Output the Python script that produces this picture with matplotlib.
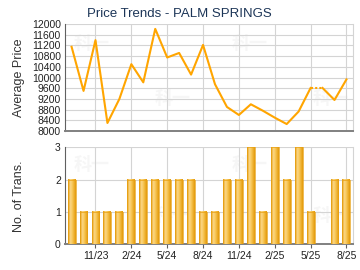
import matplotlib
matplotlib.use('Agg')

import matplotlib.pyplot as plt
import numpy as np
from matplotlib.colors import LinearSegmentedColormap

# months 9/23 .. 8/25
months = ['9/23', '10/23', '11/23', '12/23', '1/24', '2/24', '3/24', '4/24', '5/24', '6/24',
          '7/24', '8/24', '9/24', '10/24', '11/24', '12/24', '1/25', '2/25', '3/25', '4/25',
          '5/25', '6/25', '7/25', '8/25']
avg_price = [11150, 9500, 11400, 8300, 9200, 10500, 9820, 11820, 10750, 10920,
             10110, 11220, 9750, 8900, 8600, 9000, 8760, 8500, 8260, 8730,
             9610, 9610, 9160, 9930]
num_trans = [2, 1, 1, 1, 1, 2, 2, 2, 2, 2, 2, 1, 1, 2, 2, 3, 1, 3, 2, 3, 1, 0, 2, 2]
gap_month = '6/25'   # no transactions, price carried forward (dotted)

tick_labels = ['11/23', '2/24', '5/24', '8/24', '11/24', '2/25', '5/25', '8/25']

plt.rcParams['font.family'] = ['Liberation Sans', 'DejaVu Sans']

x = np.arange(len(months))
tick_pos = [months.index(t) for t in tick_labels]
gi = months.index(gap_month)

fig = plt.figure(figsize=(3.6, 2.7), dpi=100)
ax1 = fig.add_axes([0.1806, 0.5148, 0.80, 0.396])
ax2 = fig.add_axes([0.1806, 0.0952, 0.80, 0.359])

grid_c = '#d4d4d4'
axis_c = '#606060'
line_c = '#FFA500'

# watermark
for ax in (ax1, ax2):
    for (wx, wy) in [(0.03, 0.82), (0.31, 0.3), (0.58, 0.82), (0.86, 0.3)]:
        ax.text(wx, wy, '科一', transform=ax.transAxes, fontsize=13, fontweight='bold',
                color='#f6f6f6', family=['Noto Sans CJK SC', 'DejaVu Sans'],
                ha='left', va='center', zorder=0.5)

# --- price line ---
ax1.plot(x[:gi], avg_price[:gi], color=line_c, lw=1.5, zorder=3)
ax1.plot(x[gi - 1:gi + 1], avg_price[gi - 1:gi + 1], color=line_c, lw=1.5, ls=(0, (1, 1)), zorder=3)
ax1.plot(x[gi:], avg_price[gi:], color=line_c, lw=1.5, zorder=3)
ax1.set_ylim(8000, 12000)
ax1.set_yticks(np.arange(8000, 12001, 400))
ax1.set_ylabel('Average Price', fontsize=9, color='#333333')
fig.text(0.497, 0.948, 'Price Trends - PALM SPRINGS', fontsize=9.5, color='#1c3557',
         ha='center', va='center')

# --- transactions bars with gradient ---
cmap = LinearSegmentedColormap.from_list('bar', [(0, '#e29a0c'), (0.3, '#fcd889'),
                                                 (0.55, '#f8c758'), (1, '#e39a0a')])
grad = np.linspace(0, 1, 32).reshape(1, -1)
w = 0.66
for xi, n in zip(x, num_trans):
    if n <= 0:
        continue
    ax2.imshow(grad, cmap=cmap, extent=[xi - w / 2, xi + w / 2, 0, n], aspect='auto',
               zorder=3, interpolation='bilinear')
ax2.bar(x, num_trans, width=w, facecolor='none', edgecolor='#e8a012', lw=0.5, zorder=4)
ax2.set_ylim(0, 3)
ax2.set_yticks([0, 1, 2, 3])
ax2.set_ylabel('No. of Trans.', fontsize=9, color='#333333')

for ax in (ax1, ax2):
    ax.set_xlim(-0.55, len(months) - 0.45)
    ax.set_xticks(tick_pos)
    ax.grid(True, color=grid_c, lw=0.8, zorder=0)
    ax.set_axisbelow(True)
    ax.spines['top'].set_visible(False)
    ax.spines['right'].set_color(grid_c)
    ax.spines['left'].set_color(axis_c)
    ax.spines['bottom'].set_color('#808080')
    ax.spines['bottom'].set_linewidth(1.4)
    ax.tick_params(axis='y', length=0, labelsize=7.5, pad=3, colors='#222222')
    ax.tick_params(axis='x', length=3, color=axis_c, labelsize=7.5, colors='#222222', pad=2)
    ax.yaxis.set_label_coords(-0.14, 0.5)

ax1.tick_params(axis='x', labelbottom=False, length=0)
ax2.set_xticklabels(tick_labels)

fig.savefig('out.png', dpi=100)
